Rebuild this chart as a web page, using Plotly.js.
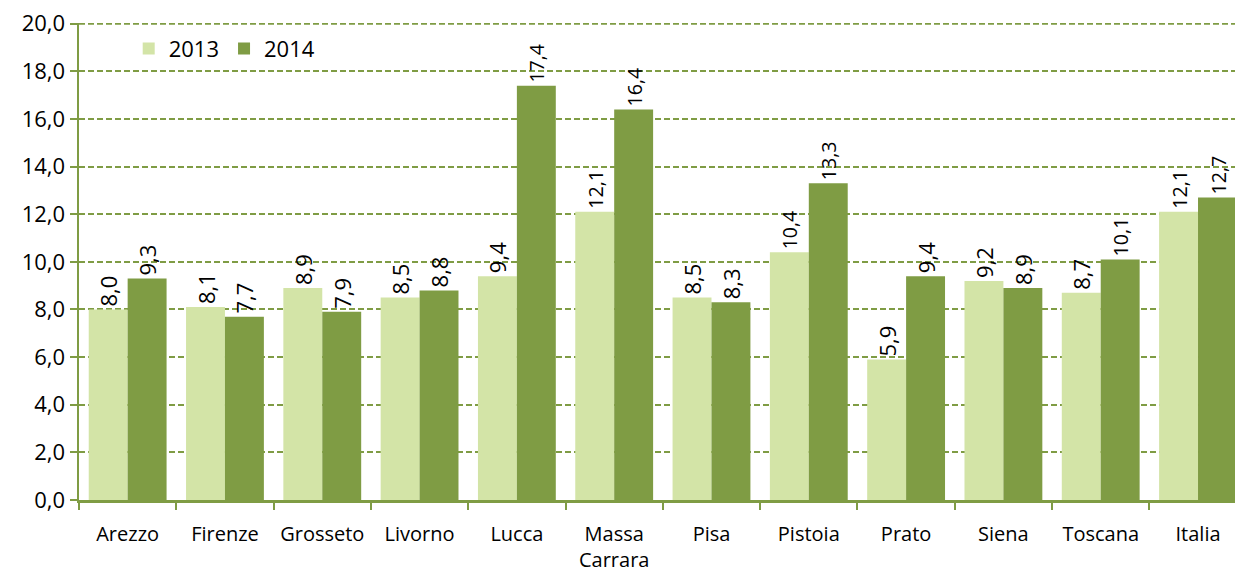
<!DOCTYPE html>
<html>
<head>
<meta charset="utf-8">
<script src="https://cdn.plot.ly/plotly-3.0.1.min.js"></script>
<style>
  html, body { margin: 0; padding: 0; background: #ffffff; }
  #chart { width: 1235px; height: 573px; }
</style>
</head>
<body>
<div id="chart"></div>
<script>
// categories and values
var province = ["Arezzo", "Firenze", "Grosseto", "Livorno", "Lucca", "Massa<br>Carrara",
    "Pisa", "Pistoia", "Prato", "Siena", "Toscana", "Italia"];
var val2013 = [8.0, 8.1, 8.9, 8.5, 9.4, 12.1, 8.5, 10.4, 5.9, 9.2, 8.7, 12.1];
var val2014 = [9.3, 7.7, 7.9, 8.8, 17.4, 16.4, 8.3, 13.3, 9.4, 8.9, 10.1, 12.7];
var yTicks = [0, 2, 4, 6, 8, 10, 12, 14, 16, 18, 20];

var green = "#7f9c44";
var fontFam = "Open Sans, Liberation Sans, sans-serif";

function lbl(v) { return v.toFixed(1).replace(".", ","); }

var t2013 = {
    type: "bar", name: "2013", x: province, y: val2013,
    marker: { color: "#d3e4a7" },
    text: val2013.map(lbl), textposition: "outside", textangle: -90,
    textfont: { size: 22, color: "#000", family: fontFam },
    cliponaxis: false
};
var t2014 = {
    type: "bar", name: "2014", x: province, y: val2014,
    marker: { color: green },
    text: val2014.map(lbl), textposition: "outside", textangle: -90,
    textfont: { size: 22, color: "#000", family: fontFam },
    cliponaxis: false
};

var layout = {
    width: 1235, height: 573,
    margin: { l: 79, r: 0, t: 23, b: 73 },
    paper_bgcolor: "#ffffff", plot_bgcolor: "#ffffff",
    font: { family: fontFam, size: 22, color: "#000" },
    barmode: "group", bargap: 0.2, bargroupgap: 0,
    showlegend: true,
    legend: { orientation: "h", x: 0.043, y: 0.99, xanchor: "left", yanchor: "top",
        font: { size: 22 }, itemwidth: 30, bgcolor: "rgba(0,0,0,0)" },
    xaxis: {
        range: [-0.5, 11.38], showgrid: false,
        showline: true, linecolor: green, linewidth: 2.5,
        ticks: "outside", tickson: "boundaries", ticklen: 7, tickwidth: 2, tickcolor: green,
        tickangle: 0, tickfont: { size: 20 }, ticklabelstandoff: 14, fixedrange: true
    },
    yaxis: {
        range: [0, 20.03], tickvals: yTicks, tickformat: ".1f",
        showgrid: true, gridcolor: green, griddash: "6px,3px", gridwidth: 2,
        showline: true, linecolor: green, linewidth: 2.5,
        ticks: "outside", ticklen: 7, tickwidth: 2, tickcolor: green,
        tickfont: { size: 22 }, zeroline: false
    },
    // top gridline at 20 sits on the plot edge, draw it explicitly
    shapes: [{
        type: "line", xref: "paper", yref: "y", x0: 0, x1: 1, y0: 20, y1: 20,
        line: { color: green, width: 2, dash: "6px,3px" }, layer: "below"
    }],
    separators: ",."
};

Plotly.newPlot("chart", [t2013, t2014], layout, { displayModeBar: false, staticPlot: true });
</script>
</body>
</html>
